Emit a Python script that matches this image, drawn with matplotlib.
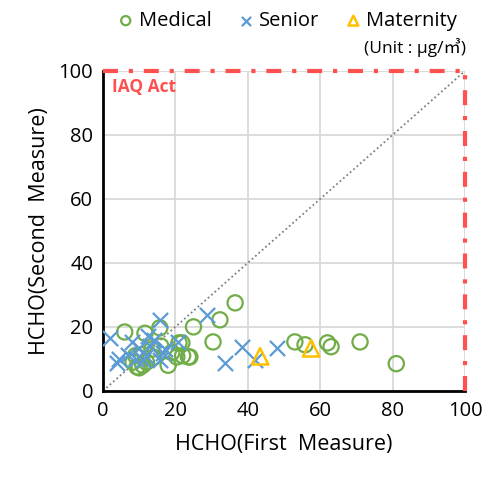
import matplotlib.pyplot as plt

plt.rcParams['font.family'] = ['Open Sans', 'Noto Sans CJK JP', 'DejaVu Sans']

# HCHO first / second measure (ug/m3)
medical_x = [6, 11.6, 15.7, 25, 21, 23.6, 18, 9.4, 10, 8.3, 19, 20.4, 10.7, 12, 13.5,
             32.3, 36.5, 30.4, 21.8, 22, 24, 53, 55.8, 62, 63, 71, 81, 9, 11, 14, 16]
medical_y = [18.4, 18, 19.7, 20, 15, 10.6, 8, 7.5, 7.2, 9, 12, 10.6, 11.3, 9, 13,
             22.2, 27.5, 15.3, 15, 11, 10.6, 15.3, 14.4, 15, 13.8, 15.3, 8.5, 11, 8, 10.5, 14]
senior_x = [2, 15.7, 4, 8, 10, 12.5, 14, 16.6, 20.7, 11, 15.7, 7, 28.7, 38.4, 33.7,
            42, 48, 9, 13, 12, 17, 4.5]
senior_y = [16.5, 22, 8.7, 15.3, 13.4, 17, 16, 11.9, 15.3, 9.7, 9.7, 11.2, 23.8, 13.8, 8.8,
            9.7, 13.4, 10, 14, 11, 13, 10]
maternity_x = [43.4, 57.5]
maternity_y = [10.8, 13.3]

green = '#70AD47'
blue = '#5B9BD5'
gold = '#FFC000'
red = '#FF5050'

fig = plt.figure(figsize=(4.88, 4.79), dpi=100)
ax = fig.add_axes([0.211, 0.184, 0.742, 0.668])

ax.plot([0, 100], [0, 100], linestyle=(0, (1, 1.5)), color='#808080', linewidth=1.3, zorder=1)

ax.scatter(medical_x, medical_y, s=120, facecolors='none', edgecolors=green, linewidths=1.6,
           marker='o', zorder=3, label='Medical')
ax.scatter(senior_x, senior_y, s=120, color=blue, linewidths=1.6, marker='x', zorder=3,
           label='Senior')
ax.scatter(maternity_x, maternity_y, s=140, facecolors='none', edgecolors=gold, linewidths=1.8,
           marker='^', zorder=4, label='Maternity')

# IAQ Act limit lines
dashdot = (0, (3.6, 2.6, 1, 2.6))
ax.axhline(100, color=red, linestyle=dashdot, linewidth=3, zorder=5, clip_on=False)
ax.axvline(100, color=red, linestyle=dashdot, linewidth=3, zorder=5, clip_on=False)
ax.text(2.5, 95, 'IAQ Act', color=red, fontsize=12.5, fontweight='bold', va='center', ha='left')

ax.set_xlim(0, 100)
ax.set_ylim(0, 100)
ax.set_xticks(range(0, 101, 20))
ax.set_yticks(range(0, 101, 20))
ax.grid(True, color='#D9D9D9', linewidth=1.3)
ax.set_axisbelow(True)
for side in ['top', 'right']:
    ax.spines[side].set_visible(False)
for side in ['left', 'bottom']:
    ax.spines[side].set_linewidth(2)
    ax.spines[side].set_color('black')
ax.tick_params(length=0, labelsize=14.5, pad=7)

ax.set_xlabel('HCHO(First  Measure)', fontsize=15.5, labelpad=10)
ax.set_ylabel('HCHO(Second  Measure)', fontsize=15.5, labelpad=6)

fig.legend(loc='upper center', bbox_to_anchor=(0.585, 1.015), ncol=3, frameon=False,
           fontsize=14.5, handletextpad=0.05, columnspacing=1.1, handlelength=1.2,
           markerscale=0.6)
fig.text(0.955, 0.9, '(Unit : μg/㎥)', ha='right', va='center', fontsize=12.5)

fig.savefig('out.png', dpi=100)
